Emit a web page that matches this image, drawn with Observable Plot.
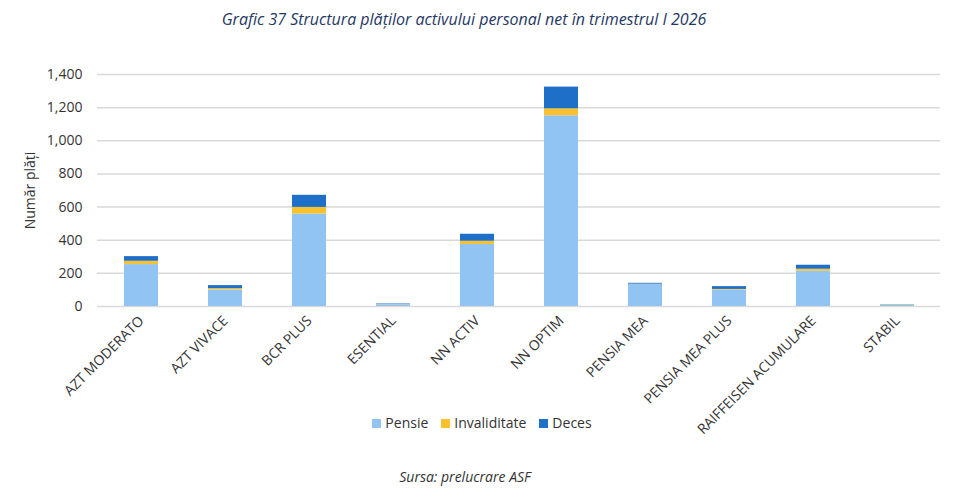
<!DOCTYPE html>
<html>
<head>
<meta charset="utf-8">
<script src="https://cdn.jsdelivr.net/npm/d3@7"></script>
<script src="https://cdn.jsdelivr.net/npm/@observablehq/plot@0.6"></script>
<style>
  html, body { margin: 0; padding: 0; background: #fff; }
  #wrap { position: relative; width: 954px; height: 493px; font-family: "Open Sans", sans-serif; }
  #title { position: absolute; top: 8px; left: 0; width: 928px; text-align: center; font-style: italic; font-size: 16px; color: #1f3864; z-index: 2; }
  #chart { position: absolute; top: 40px; left: 0; z-index: 1; }
  #legend { position: absolute; top: 413px; left: 0; width: 964px; display: flex; justify-content: center; gap: 13px; font-size: 14px; color: #333; z-index: 2; }
  #legend span.sw { display: inline-block; width: 9px; height: 9px; margin-right: 4px; vertical-align: 0px; }
  #caption { position: absolute; top: 467px; left: 0; width: 930px; text-align: center; font-style: italic; font-size: 14px; color: #333; z-index: 2; }
</style>
</head>
<body>
<div id="wrap">
  <div id="chart"></div>
  <div id="title">Grafic 37 Structura plăților activului personal net în trimestrul I 2026</div>
  <div id="legend"></div>
  <div id="caption">Sursa: prelucrare ASF</div>
</div>
<script>
const categories = ["AZT MODERATO", "AZT VIVACE", "BCR PLUS", "ESENTIAL", "NN ACTIV", "NN OPTIM", "PENSIA MEA", "PENSIA MEA PLUS", "RAIFFEISEN ACUMULARE", "STABIL"];
const pensie       = [253, 100, 558, 11, 374, 1151, 133, 99, 213, 9];
const invaliditate = [20, 8, 40, 1, 20, 42, 2, 4, 12, 2];
const deces        = [28, 18, 73, 3, 42, 131, 5, 17, 24, 1];
const seriesNames = ["Pensie", "Invaliditate", "Deces"];
const seriesColors = ["#92c4f3", "#f9c12e", "#1e6fc8"];
const yTicks = [0, 200, 400, 600, 800, 1000, 1200, 1400];

const seriesValues = [pensie, invaliditate, deces];
const data = [];
categories.forEach((c, i) => {
  seriesNames.forEach((s, j) => data.push({cat: c, serie: s, value: seriesValues[j][i]}));
});

const chart = Plot.plot({
  width: 954,
  height: 420,
  marginTop: 34,
  marginBottom: 154,
  marginLeft: 97,
  marginRight: 14,
  style: {fontFamily: "Open Sans, sans-serif", fontSize: "13px", color: "#333", background: "transparent"},
  x: {domain: categories, paddingInner: 0.6, paddingOuter: 0.3, label: null},
  y: {domain: [0, 1400], label: null},
  color: {domain: seriesNames, range: seriesColors},
  marks: [
    Plot.gridY(yTicks, {stroke: "#d9d9d9", strokeOpacity: 1, strokeWidth: 1.5}),
    Plot.barY(data, {x: "cat", y: "value", fill: "serie", order: seriesNames}),
    Plot.axisY({ticks: yTicks, tickSize: 0, tickPadding: 15, tickFormat: d3.format(","), fontSize: 14,
                label: "Număr plăți", labelAnchor: "center", labelArrow: "none", labelOffset: 72}),
    Plot.axisX({tickSize: 0, tickPadding: 12, tickRotate: -45, fontSize: 14, label: null})
  ]
});
document.getElementById("chart").appendChild(chart);

const legend = document.getElementById("legend");
seriesNames.forEach((s, j) => {
  const item = document.createElement("div");
  item.innerHTML = `<span class="sw" style="background:${seriesColors[j]}"></span>${s}`;
  legend.appendChild(item);
});
</script>
</body>
</html>
